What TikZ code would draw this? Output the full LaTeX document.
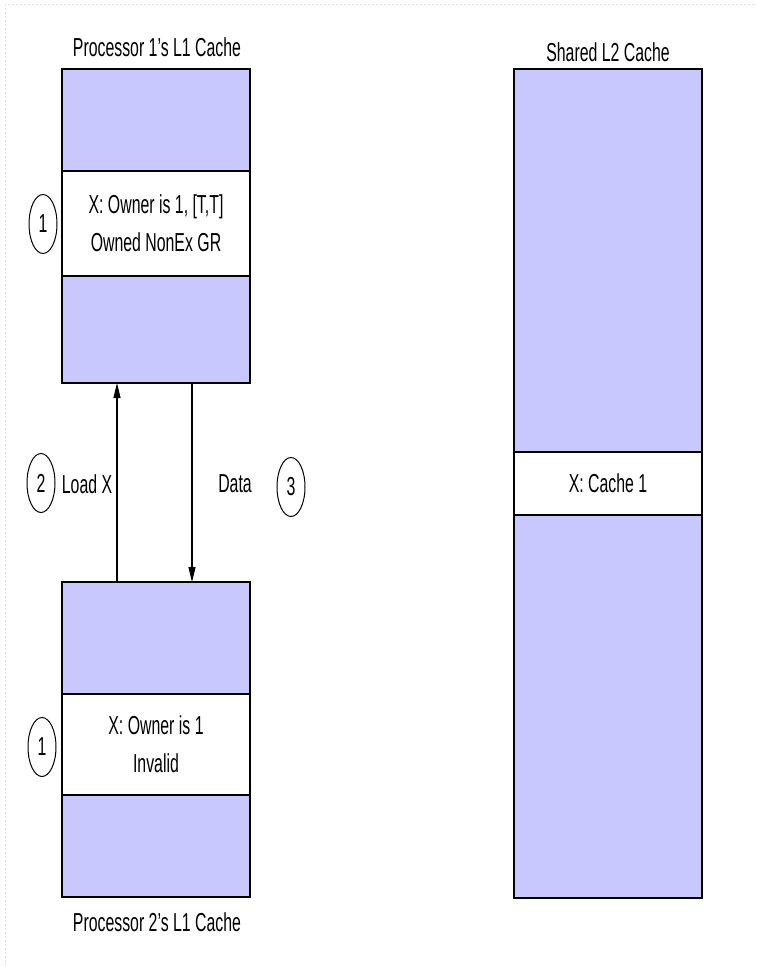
\documentclass[tikz,border=0pt]{standalone}
\usepackage{fontspec}
\setmainfont[FakeStretch=0.61]{Liberation Sans}
\usepackage{tikz}
\usetikzlibrary{positioning,arrows.meta,shapes.geometric}
\definecolor{cacheblue}{HTML}{C8C8FF}
\definecolor{edgegray}{HTML}{E4E4E4}
\tikzset{
  cell/.style={draw, line width=1.8pt, minimum width=188pt, inner sep=0pt, outer sep=0pt,
    align=center, font=\fontsize{26}{38}\selectfont},
  blank/.style={cell, fill=cacheblue},
  entry/.style={cell, fill=white},
  stepno/.style={draw, ellipse, line width=1pt, minimum width=28pt, minimum height=59pt,
    inner sep=0pt, font=\fontsize{26}{28}\selectfont},
  caption/.style={font=\fontsize{26}{28}\selectfont},
  msg/.style={-{Triangle[length=15pt,width=7pt]}, line width=1.2pt},
}

\begin{document}
\begin{tikzpicture}[x=1pt,y=-1pt]
\useasboundingbox (0,0) rectangle (756,966);
\draw[edgegray, line width=1pt, dash pattern=on 2pt off 2pt] (5,966) -- (5,5) -- (756,5);
% processor 1's L1
\node[blank, minimum height=102pt] (p1a) at (156,120) {};
\node[entry, minimum height=105pt] (p1x) at (156,223.5) {X: Owner is 1, [T,T]\\Owned NonEx GR};
\node[blank, minimum height=107pt] (p1b) at (156,329.5) {};
\node[caption] (p1t) at (157,47) {Processor 1's L1 Cache};
\node[stepno] (s1a) at (43,224) {1};
% processor 2's L1
\node[blank, minimum height=112pt] (p2a) at (156,638) {};
\node[entry, minimum height=101pt] (p2x) at (156,744.5) {X: Owner is 1\\Invalid};
\node[blank, minimum height=102pt] (p2b) at (156,846) {};
\node[caption] (p2t) at (157,922) {Processor 2's L1 Cache};
\node[stepno] (s1b) at (42,747) {1};
% shared L2
\node[blank, minimum height=383pt] (l2a) at (608,260.5) {};
\node[entry, minimum height=63pt] (l2x) at (608,483.5) {X: Cache 1};
\node[blank, minimum height=383pt] (l2b) at (608,706.5) {};
\node[caption] (l2t) at (608,52) {Shared L2 Cache};
% messages
\coordinate (ld) at (117,0);
\coordinate (dt) at (192,0);
\draw[msg] (p2a.north -| ld) -- (p1b.south -| ld);
\draw[msg] (p1b.south -| dt) -- (p2a.north -| dt);
\node[stepno] (s2) at (41,483) {2};
\node[caption] (ldl) at (87,484) {Load X};
\node[caption] (dtl) at (235,484) {Data};
\node[stepno] (s3) at (291,487) {3};
\end{tikzpicture}
\end{document}
